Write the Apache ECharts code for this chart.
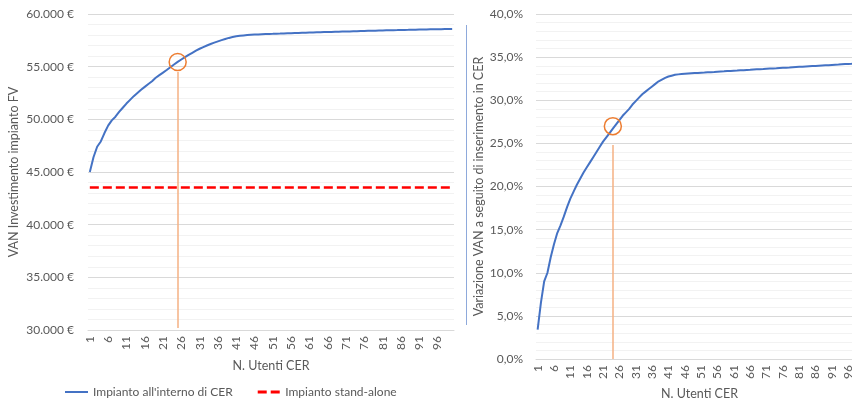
<!DOCTYPE html>
<html>
<head>
<meta charset="utf-8">
<script src="https://cdn.jsdelivr.net/npm/echarts@6/dist/echarts.min.js"></script>
<style>
  html, body { margin: 0; padding: 0; background: #ffffff; }
  #chart { width: 852px; height: 400px; }
</style>
</head>
<body>
<div id="chart"></div>
<script>
// Number of CER users (1..100)
const users = [];
for (let i = 1; i <= 100; i++) users.push(String(i));

// NPV of the PV plant when it is part of the CER (EUR)
const vanCER = [
  45000, 46400, 47400, 47900, 48700, 49400, 49900, 50250, 50700, 51100,
  51500, 51850, 52200, 52500, 52800, 53080, 53350, 53620, 53950, 54200,
  54440, 54680, 54950, 55200, 55450, 55680, 55900, 56120, 56320, 56520,
  56700, 56860, 57010, 57150, 57280, 57400, 57520, 57630, 57730, 57810,
  57880, 57930, 57970, 58000, 58030, 58045, 58060, 58080, 58095, 58110,
  58120, 58135, 58145, 58160, 58170, 58180, 58195, 58205, 58220, 58230,
  58240, 58250, 58260, 58270, 58280, 58290, 58300, 58310, 58320, 58330,
  58340, 58350, 58360, 58370, 58380, 58390, 58400, 58410, 58420, 58430,
  58440, 58450, 58455, 58465, 58470, 58480, 58490, 58495, 58505, 58510,
  58520, 58530, 58535, 58545, 58550, 58555, 58560, 58570, 58575, 58580
];

// NPV of the stand-alone plant (EUR)
const vanStandAlone = 43550;

// NPV change after joining the CER (%)
const variazioneVAN = [
  3.4, 6.5, 9.0, 10.0, 11.8, 13.3, 14.6, 15.5, 16.5, 17.6,
  18.6, 19.4, 20.2, 20.9, 21.6, 22.2, 22.8, 23.4, 24.0, 24.6,
  25.2, 25.7, 26.2, 26.7, 27.2, 27.7, 28.2, 28.6, 29.0, 29.5,
  29.9, 30.3, 30.7, 31.0, 31.3, 31.6, 31.9, 32.2, 32.4, 32.6,
  32.75, 32.85, 32.95, 33.0, 33.03, 33.06, 33.09, 33.12, 33.15, 33.17,
  33.19, 33.21, 33.24, 33.26, 33.28, 33.31, 33.33, 33.35, 33.38, 33.40,
  33.42, 33.44, 33.47, 33.49, 33.51, 33.53, 33.56, 33.58, 33.60, 33.62,
  33.65, 33.67, 33.69, 33.71, 33.74, 33.76, 33.78, 33.80, 33.83, 33.85,
  33.87, 33.89, 33.92, 33.94, 33.96, 33.98, 34.01, 34.03, 34.05, 34.07,
  34.10, 34.12, 34.14, 34.17, 34.19, 34.21, 34.23, 34.26, 34.28, 34.30
];

// Highlighted user count and the values at the marker
const highlightLeft = { user: '25', value: 55450, lineTop: 54500, lineBottom: 30200 };
const highlightRight = { user: '24', value: 27.0, lineTop: 24.8, lineBottom: 0 };

const textColor = '#595959';
const fontFamily = 'Lato, "Open Sans", sans-serif';
const blue = '#4472C4';
const red = '#FF0000';
const orange = '#ED7D31';
const orangeLight = '#F4B183';

function fmtEuro(v) {
  const s = String(Math.round(v));
  return s.replace(/\B(?=(\d{3})+(?!\d))/g, '.') + ' €';
}
function fmtPct(v) {
  return v.toFixed(1).replace('.', ',') + '%';
}

const catAxisCommon = {
  type: 'category',
  boundaryGap: true,
  data: users,
  axisLine: { show: true, lineStyle: { color: '#D9D9D9', width: 1 } },
  axisTick: { show: false },
  axisLabel: {
    interval: 4, rotate: 90, color: textColor, fontSize: 12,
    fontFamily: fontFamily, margin: 6
  },
  name: 'N. Utenti CER',
  nameLocation: 'middle',
  nameTextStyle: { color: textColor, fontSize: 12.5, fontFamily: fontFamily }
};

const option = {
  animation: false,
  backgroundColor: '#ffffff',
  textStyle: { fontFamily: fontFamily },
  grid: [
    { left: 88, top: 14, width: 366, height: 316, outerBoundsMode: 'none', containLabel: false },
    { left: 536, top: 14, width: 327, height: 345, outerBoundsMode: 'none', containLabel: false }
  ],
  legend: {
    left: 60, top: 381,
    itemWidth: 23, itemHeight: 3, itemGap: 25,
    textStyle: { color: textColor, fontSize: 12, fontFamily: fontFamily },
    data: [
      { name: 'Impianto all\'interno di CER', icon: 'path://M0,0H23V2H0Z' },
      { name: 'Impianto stand-alone', icon: 'path://M0,0H9V3H0Z M13,0H22V3H13Z' }
    ]
  },
  xAxis: [
    Object.assign({}, catAxisCommon, { gridIndex: 0, nameGap: 29 }),
    Object.assign({}, catAxisCommon, { gridIndex: 1, nameGap: 28 })
  ],
  yAxis: [
    {
      type: 'value', gridIndex: 0, min: 30000, max: 60000, interval: 5000,
      axisLine: { show: false }, axisTick: { show: false },
      axisLabel: { color: textColor, fontSize: 12, fontFamily: fontFamily, margin: 14, formatter: fmtEuro },
      splitLine: { lineStyle: { color: '#D9D9D9', width: 1 } },
      minorTick: { show: false, splitNumber: 5 },
      minorSplitLine: { show: true, lineStyle: { color: '#F2F2F2', width: 1 } },
      name: 'VAN Investimento impianto FV',
      nameLocation: 'middle', nameGap: 68,
      nameTextStyle: { color: textColor, fontSize: 12.5, fontFamily: fontFamily }
    },
    {
      type: 'value', gridIndex: 1, min: 0, max: 40, interval: 5,
      axisLine: { show: false }, axisTick: { show: false },
      axisLabel: { color: textColor, fontSize: 12, fontFamily: fontFamily, margin: 13, formatter: fmtPct },
      splitLine: { lineStyle: { color: '#D9D9D9', width: 1 } },
      minorTick: { show: false, splitNumber: 5 },
      minorSplitLine: { show: true, lineStyle: { color: '#F2F2F2', width: 1 } },
      name: 'Variazione VAN a seguito di inserimento in CER',
      nameLocation: 'middle', nameGap: 46,
      nameTextStyle: { color: textColor, fontSize: 12.5, fontFamily: fontFamily }
    }
  ],
  series: [
    {
      name: 'Impianto all\'interno di CER',
      type: 'line', xAxisIndex: 0, yAxisIndex: 0,
      data: vanCER, symbol: 'none', smooth: false,
      lineStyle: { color: blue, width: 2 },
      itemStyle: { color: blue },
      z: 3,
      markPoint: {
        silent: true,
        symbol: 'circle', symbolSize: 17,
        itemStyle: { color: 'rgba(0,0,0,0)', borderColor: orange, borderWidth: 1.5 },
        label: { show: false },
        data: [{ coord: [highlightLeft.user, highlightLeft.value] }]
      },
      markLine: {
        silent: true, symbol: 'none', animation: false,
        label: { show: false },
        lineStyle: { color: orangeLight, width: 1.5, type: 'solid' },
        data: [[
          { coord: [highlightLeft.user, highlightLeft.lineTop] },
          { coord: [highlightLeft.user, highlightLeft.lineBottom] }
        ]]
      }
    },
    {
      name: 'Impianto stand-alone',
      type: 'line', xAxisIndex: 0, yAxisIndex: 0,
      data: [], symbol: 'none',
      lineStyle: { color: red, width: 2.5, type: [9, 4] },
      itemStyle: { color: red },
      markLine: {
        silent: true, symbol: 'none', animation: false,
        label: { show: false },
        lineStyle: { color: red, width: 2.5, type: [9, 4] },
        data: [[
          { coord: [users[0], vanStandAlone] },
          { coord: [users[users.length - 1], vanStandAlone] }
        ]]
      }
    },
    {
      name: 'Variazione VAN',
      type: 'line', xAxisIndex: 1, yAxisIndex: 1,
      data: variazioneVAN, symbol: 'none',
      lineStyle: { color: blue, width: 2 },
      itemStyle: { color: blue },
      z: 3,
      markPoint: {
        silent: true,
        symbol: 'circle', symbolSize: 17,
        itemStyle: { color: 'rgba(0,0,0,0)', borderColor: orange, borderWidth: 1.5 },
        label: { show: false },
        data: [{ coord: [highlightRight.user, highlightRight.value] }]
      },
      markLine: {
        silent: true, symbol: 'none', animation: false,
        label: { show: false },
        lineStyle: { color: orangeLight, width: 1.5, type: 'solid' },
        data: [[
          { coord: [highlightRight.user, highlightRight.lineTop] },
          { coord: [highlightRight.user, highlightRight.lineBottom] }
        ]]
      }
    }
  ],
  graphic: [
    {
      type: 'line', silent: true,
      shape: { x1: 466.5, y1: 25, x2: 466.5, y2: 325 },
      style: { stroke: '#8EA9DB', lineWidth: 1 }
    }
  ]
};

const chart = echarts.init(document.getElementById('chart'), null, { renderer: 'canvas' });
chart.setOption(option);
</script>
</body>
</html>
